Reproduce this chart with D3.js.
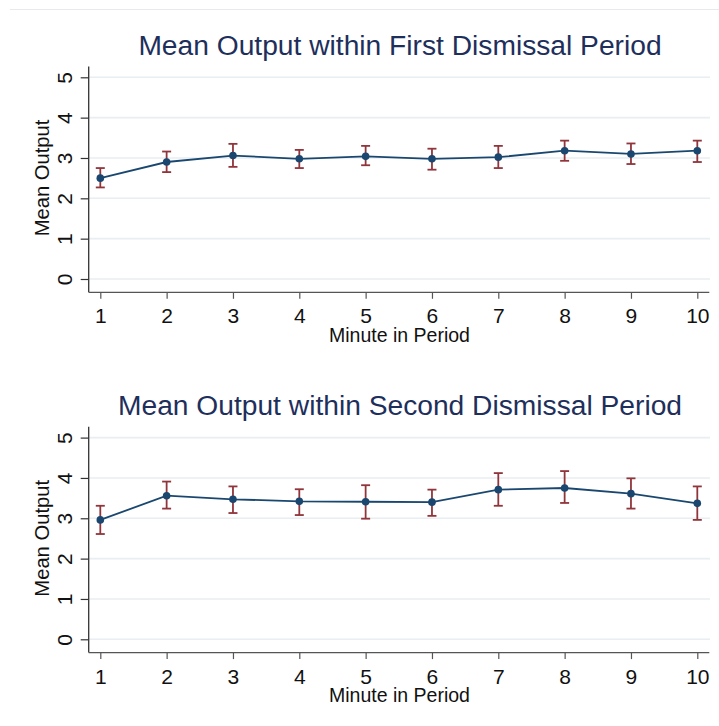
<!DOCTYPE html>
<html>
<head>
<meta charset="utf-8">
<script src="https://cdn.jsdelivr.net/npm/d3@7"></script>
<style>
  body { margin: 0; background: #fff; }
  svg { display: block; font-family: "Liberation Sans", Arial, sans-serif; }
</style>
</head>
<body>
<svg id="chart" width="719" height="726"></svg>
<script>
// data
var minutes = [1, 2, 3, 4, 5, 6, 7, 8, 9, 10];
var yTicks = [0, 1, 2, 3, 4, 5];

var firstMean = [2.50, 2.90, 3.06, 2.98, 3.04, 2.98, 3.02, 3.18, 3.10, 3.18];
var firstLow  = [2.27, 2.65, 2.78, 2.75, 2.82, 2.71, 2.75, 2.93, 2.85, 2.90];
var firstHigh = [2.75, 3.16, 3.35, 3.20, 3.30, 3.23, 3.30, 3.43, 3.36, 3.43];

var secondMean = [2.96, 3.56, 3.47, 3.42, 3.41, 3.40, 3.71, 3.75, 3.61, 3.37];
var secondLow  = [2.61, 3.24, 3.13, 3.08, 2.99, 3.06, 3.31, 3.38, 3.24, 2.96];
var secondHigh = [3.31, 3.91, 3.79, 3.72, 3.82, 3.71, 4.12, 4.17, 3.99, 3.79];

var titles = ["Mean Output within First Dismissal Period",
              "Mean Output within Second Dismissal Period"];

var navy = "#1a476f",
    red = "#90353b",
    grid = "#e8eef2",
    titleColor = "#1e2f5c";

var svg = d3.select("#chart");

// faint frame line at the top
svg.append("line")
    .attr("x1", 10).attr("x2", 719)
    .attr("y1", 9.5).attr("y2", 9.5)
    .attr("stroke", "#e6eaee")
    .attr("stroke-width", 1.2);

function drawPanel(top, title, mean, low, high) {
    var left = 88.7, right = 710;
    var x = d3.scaleLinear().domain([1, 10]).range([100.3, 697.3]);
    var y = d3.scaleLinear().domain([0, 5]).range([top + 202, top + 0.3]);
    var axisTop = top - 10.5, axisBottom = top + 215.3;

    var g = svg.append("g");

    // title
    g.append("text")
        .attr("x", 400)
        .attr("y", top - 22)
        .attr("text-anchor", "middle")
        .attr("fill", titleColor)
        .style("font-size", "28.2px")
        .text(title);

    // grid
    g.append("g").selectAll("line")
        .data(yTicks)
        .enter().append("line")
        .attr("x1", left).attr("x2", right)
        .attr("y1", function(d) { return y(d); })
        .attr("y2", function(d) { return y(d); })
        .attr("stroke", grid)
        .attr("stroke-width", 1.6);

    // y axis
    var yAxis = g.append("g")
        .attr("transform", "translate(" + left + ",0)")
        .call(d3.axisLeft(y).tickValues(yTicks).tickSize(8).tickPadding(0).tickFormat(d3.format("d")));
    yAxis.select(".domain").remove();
    yAxis.selectAll(".tick line").attr("stroke", "#333").attr("stroke-width", 1.2);
    yAxis.selectAll(".tick text")
        .attr("x", null).attr("dy", null)
        .attr("text-anchor", "middle")
        .attr("transform", "translate(-16.5,0) rotate(-90)")
        .attr("fill", "#111")
        .style("font-size", "21px")
        .attr("font-family", null);
    yAxis.attr("font-family", null).attr("font-size", null);

    g.append("line")
        .attr("x1", left).attr("x2", left)
        .attr("y1", axisTop).attr("y2", axisBottom)
        .attr("stroke", "#333").attr("stroke-width", 1.3);

    // x axis
    var xAxis = g.append("g")
        .attr("transform", "translate(0," + axisBottom + ")")
        .call(d3.axisBottom(x).tickValues(minutes).tickSize(6.5).tickPadding(0).tickFormat(d3.format("d")));
    xAxis.select(".domain").remove();
    xAxis.selectAll(".tick line").attr("stroke", "#555").attr("stroke-width", 1.2);
    xAxis.selectAll(".tick text")
        .attr("y", 31).attr("dy", null)
        .attr("fill", "#111")
        .style("font-size", "21px");
    xAxis.attr("font-family", null).attr("font-size", null);

    g.append("line")
        .attr("x1", left).attr("x2", 709.3)
        .attr("y1", axisBottom).attr("y2", axisBottom)
        .attr("stroke", "#555").attr("stroke-width", 1.3);

    // axis titles
    g.append("text")
        .attr("x", 399.5)
        .attr("y", axisBottom + 49.4)
        .attr("text-anchor", "middle")
        .attr("fill", "#111")
        .style("font-size", "19.5px")
        .text("Minute in Period");

    g.append("text")
        .attr("transform", "translate(49," + (top + 101) + ") rotate(-90)")
        .attr("text-anchor", "middle")
        .attr("fill", "#111")
        .style("font-size", "20.2px")
        .text("Mean Output");

    // error bars
    var bars = g.append("g").selectAll("g")
        .data(minutes)
        .enter().append("g")
        .attr("stroke", red)
        .attr("stroke-width", 1.8);
    bars.append("line")
        .attr("x1", function(d) { return x(d); })
        .attr("x2", function(d) { return x(d); })
        .attr("y1", function(d, i) { return y(low[i]); })
        .attr("y2", function(d, i) { return y(high[i]); });
    bars.append("line")
        .attr("x1", function(d) { return x(d) - 4.5; })
        .attr("x2", function(d) { return x(d) + 4.5; })
        .attr("y1", function(d, i) { return y(low[i]); })
        .attr("y2", function(d, i) { return y(low[i]); });
    bars.append("line")
        .attr("x1", function(d) { return x(d) - 4.5; })
        .attr("x2", function(d) { return x(d) + 4.5; })
        .attr("y1", function(d, i) { return y(high[i]); })
        .attr("y2", function(d, i) { return y(high[i]); });

    // connected line
    var line = d3.line()
        .x(function(d) { return x(d); })
        .y(function(d, i) { return y(mean[i]); });
    g.append("path")
        .datum(minutes)
        .attr("d", line)
        .attr("fill", "none")
        .attr("stroke", navy)
        .attr("stroke-width", 1.8);

    g.append("g").selectAll("circle")
        .data(minutes)
        .enter().append("circle")
        .attr("cx", function(d) { return x(d); })
        .attr("cy", function(d, i) { return y(mean[i]); })
        .attr("r", 3.8)
        .attr("fill", navy);
}

drawPanel(77, titles[0], firstMean, firstLow, firstHigh);
drawPanel(437.3, titles[1], secondMean, secondLow, secondHigh);
</script>
</body>
</html>
